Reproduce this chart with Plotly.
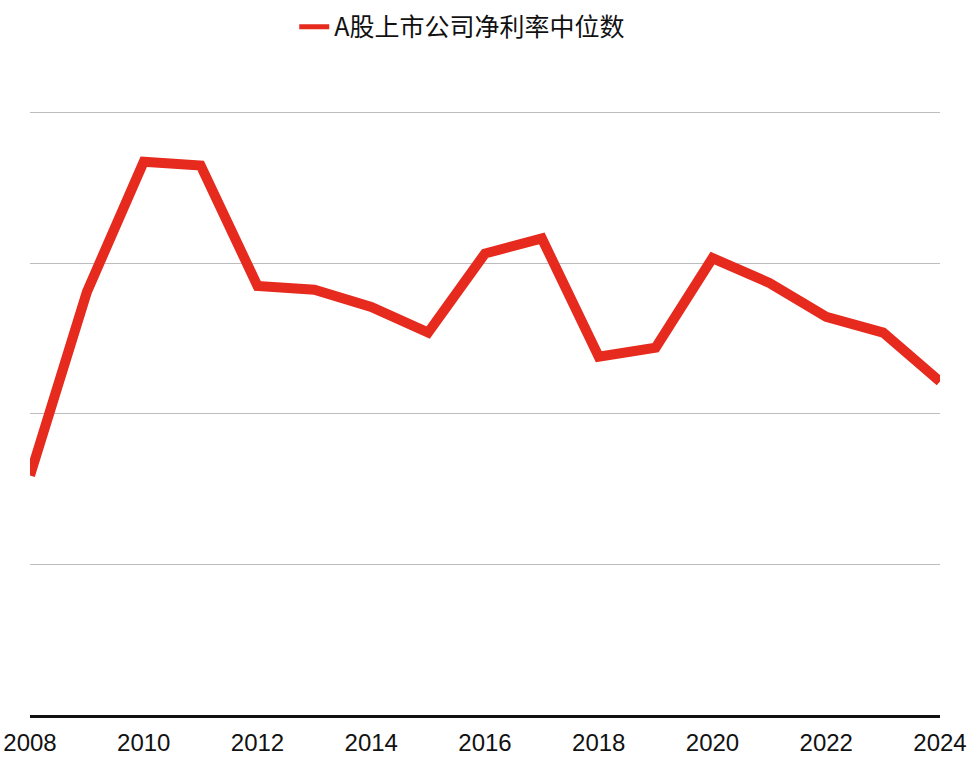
import plotly.graph_objects as go

years = list(range(2008, 2025))
net_margin_median = [3.18, 5.62, 7.35, 7.30, 5.70, 5.65, 5.42, 5.08, 6.13, 6.33,
                     4.76, 4.88, 6.07, 5.74, 5.29, 5.08, 4.43]
series_name = "A股上市公司净利率中位数"
tick_years = list(range(2008, 2025, 2))

line_color = "#e62a1e"

fig = go.Figure()
fig.add_trace(go.Scatter(
    x=years, y=net_margin_median, mode="lines", name=series_name,
    line=dict(color=line_color, width=10), cliponaxis=False, showlegend=False,
))
# legend entry with a thinner sample line
fig.add_trace(go.Scatter(
    x=[None], y=[None], mode="lines", name=series_name,
    line=dict(color=line_color, width=5), showlegend=True,
))

fig.update_layout(
    width=980, height=764,
    margin=dict(l=30, r=40, t=109, b=49),
    paper_bgcolor="white", plot_bgcolor="white",
    legend=dict(orientation="h", x=0.475, xanchor="center",
                yref="container", y=0.9647, yanchor="middle",
                font=dict(family="Noto Sans CJK SC, Liberation Sans, sans-serif", size=25, color="#111"),
                itemwidth=30),
    font=dict(family="Liberation Sans, Arial, sans-serif", color="#111"),
    xaxis=dict(range=[2008, 2024], tickmode="array", tickvals=tick_years,
               ticktext=[str(y) for y in tick_years], showgrid=False, zeroline=False,
               showline=True, linecolor="#111", linewidth=3, ticks="", automargin=False,
               ticklabelstandoff=4,
               tickfont=dict(size=24, color="#111"), fixedrange=True),
    yaxis=dict(range=[0, 8.05], tickmode="array", tickvals=[2, 4, 6, 8], showticklabels=False,
               showgrid=True, automargin=False,
               gridcolor="#bdbdbd", gridwidth=1, zeroline=False, showline=False, ticks=""),
)

fig.write_html("out.html", config={"displayModeBar": False},
               post_script="document.body.style.margin='0';")
